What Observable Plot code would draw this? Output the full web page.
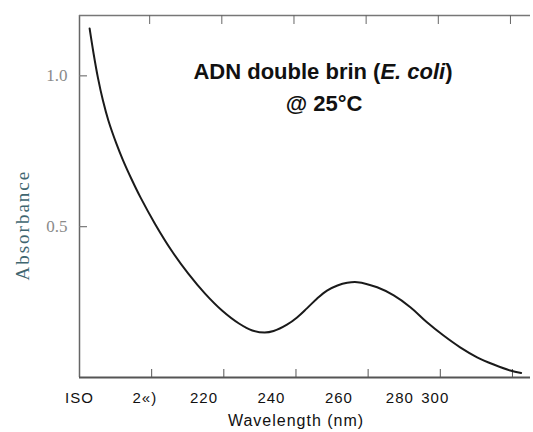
<!DOCTYPE html>
<html>
<head>
<meta charset="utf-8">
<script src="https://cdn.jsdelivr.net/npm/d3@7"></script>
<script src="https://cdn.jsdelivr.net/npm/@observablehq/plot@0.6"></script>
<style>
  html, body { margin: 0; padding: 0; background: #fff; }
  #chart svg { display: block; }
</style>
</head>
<body>
<div id="chart"></div>
<script>
// Wavelength (nm) and absorbance
const wavelength = [182.8, 183.9, 185.1, 186.5, 188.0, 190.2, 192.1, 194.6, 196.9, 200.9, 205.5, 210.1, 214.8, 219.5, 224.2, 227.9, 231.3, 233.8, 237.5, 240.3, 243.1, 245.8, 248.6, 251.5, 254.2, 257.0, 262.5, 267.1, 271.7, 276.3, 280.9, 285.5, 290.2, 294.8, 299.4, 302.4];
const absorbance = [1.157, 1.074, 0.994, 0.918, 0.852, 0.776, 0.719, 0.653, 0.597, 0.510, 0.421, 0.345, 0.278, 0.222, 0.179, 0.156, 0.149, 0.154, 0.175, 0.199, 0.230, 0.261, 0.288, 0.305, 0.314, 0.316, 0.299, 0.272, 0.233, 0.183, 0.139, 0.100, 0.067, 0.043, 0.023, 0.015];

// Axis ticks
const xTicks = [200, 220, 240, 260, 280, 300];
const yTicks = [1.0, 0.5];
const yTickLabels = ["1.0", "0.5"];
// Bottom tick labels as printed in the (OCR-damaged) scan, and where they sit
const xTickLabels = ["ISO", "2«)", "220", "240", "260", "280", "300"];
const xTickLabelPos = [180, 198.1, 214.5, 233.2, 251.9, 268.8, 278.6];

const titleLines = ["ADN double brin (E. coli)", "@ 25°C"];
const xTitle = "Wavelength (nm)";
const yTitle = "Absorbance";

const data = wavelength.map((w, i) => ({w, a: absorbance[i]}));
const xLabels = xTickLabels.map((t, i) => ({t, x: xTickLabelPos[i]}));
const yLabels = yTicks.map((v, i) => ({v, t: yTickLabels[i]}));

const W = 533, H = 432;
const mL = 79, mT = 15, mB = 55, mR = 3;
const plotH = H - mT - mB, plotW = W - mL - mR;

const sans = "'Liberation Sans', Arial, sans-serif";
const serif = "'Liberation Serif', 'DejaVu Serif', serif";

const chart = Plot.plot({
  width: W, height: H,
  marginLeft: mL, marginTop: mT, marginBottom: mB, marginRight: mR,
  x: {domain: [180, 305], axis: null},
  y: {domain: [0, 1.2], axis: null},
  style: {background: "#fff"},
  marks: [
    // frame: left, top, bottom
    Plot.ruleX([180], {stroke: "#666", strokeWidth: 1.5}),
    Plot.ruleY([1.2], {stroke: "#777", strokeWidth: 1.5}),
    Plot.ruleY([0], {stroke: "#555", strokeWidth: 2}),
    // inward ticks bottom and top
    Plot.ruleX(xTicks, {x: d => d, stroke: "#555", strokeWidth: 1, insetTop: plotH - 8}),
    Plot.ruleX(xTicks, {x: d => d, dx: -2, stroke: "#666", strokeWidth: 1, insetBottom: plotH - 9}),
    // y ticks
    Plot.ruleY(yTicks, {y: d => d, stroke: "#777", strokeWidth: 1.2, insetRight: plotW - 8}),
    // y tick labels
    Plot.text(yLabels, {y: "v", text: "t", frameAnchor: "left", dx: -12, textAnchor: "end",
      fontFamily: serif, fontSize: 17, fill: "#8a8a8a"}),
    // x tick labels
    Plot.text(xLabels, {x: "x", text: "t", frameAnchor: "bottom", dy: 25, lineAnchor: "bottom",
      fontFamily: sans, fontSize: 15, fill: "#111", className: "xtl"}),
    // x axis title
    Plot.text([xTitle], {frameAnchor: "bottom", dx: -9, dy: 48, lineAnchor: "bottom",
      fontFamily: sans, fontSize: 16, fill: "#111", className: "xtitle"}),
    // y axis title
    Plot.text([yTitle], {y: [0.505], frameAnchor: "left", dx: -57, rotate: -90,
      textAnchor: "middle", fontFamily: serif, fontSize: 19, fill: "#3f6670", className: "ytitle"}),
    // title
    Plot.text([titleLines[0]], {frameAnchor: "top", dx: 18, dy: 63, lineAnchor: "bottom",
      fontFamily: sans, fontSize: 22, fontWeight: "bold", fill: "#111"}),
    Plot.text([titleLines[1]], {frameAnchor: "top", dx: 19, dy: 95, lineAnchor: "bottom",
      fontFamily: sans, fontSize: 22, fontWeight: "bold", fill: "#111"}),
    // spectrum
    Plot.line(data, {x: "w", y: "a", curve: "catmull-rom", stroke: "#1a1a1a", strokeWidth: 2})
  ]
});

// letter spacing (not a Plot option)
chart.querySelectorAll(".xtl text").forEach(t => t.setAttribute("letter-spacing", "1"));
chart.querySelectorAll(".xtitle text").forEach(t => t.setAttribute("letter-spacing", "1"));
chart.querySelectorAll(".ytitle text").forEach(t => t.setAttribute("letter-spacing", "2"));

// italicise "E. coli" inside the title
chart.querySelectorAll("text").forEach(t => {
  if (t.textContent === titleLines[0]) {
    t.textContent = "";
    const parts = [["ADN double brin (", null], ["E. coli", "italic"], [")", null]];
    for (const [s, st] of parts) {
      const ts = document.createElementNS("http://www.w3.org/2000/svg", "tspan");
      ts.textContent = s;
      if (st) ts.setAttribute("font-style", st);
      t.appendChild(ts);
    }
  }
});

document.getElementById("chart").appendChild(chart);
</script>
</body>
</html>
